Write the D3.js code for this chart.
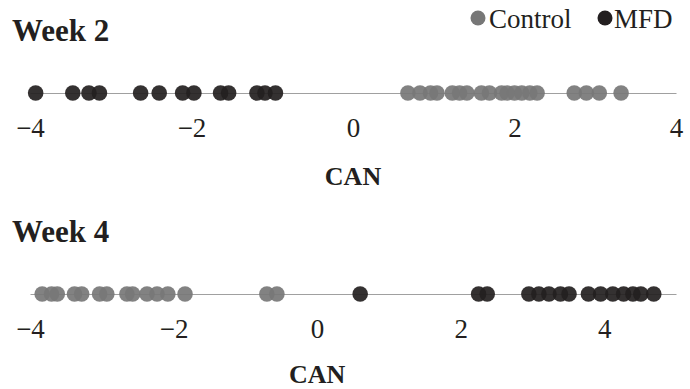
<!DOCTYPE html>
<html>
<head>
<meta charset="utf-8">
<script src="https://cdn.jsdelivr.net/npm/d3@7"></script>
<style>
  body { margin: 0; background: #fff; }
  svg text { font-family: "Liberation Serif", "Times New Roman", Times, serif; fill: #231f20; }
</style>
</head>
<body>
<svg id="chart" width="690" height="389"></svg>
<script>
// CAN scores
var week2Control = [0.68, 0.83, 0.96, 1.04, 1.23, 1.32, 1.41, 1.59, 1.69, 1.84, 1.91, 2.00, 2.09, 2.19, 2.28, 2.74, 2.89, 3.05, 3.32];
var week2MFD = [-3.93, -3.47, -3.27, -3.14, -2.63, -2.40, -2.11, -1.97, -1.64, -1.54, -1.19, -1.09, -0.96];
var week4Control = [-3.83, -3.70, -3.62, -3.38, -3.28, -3.03, -2.93, -2.65, -2.57, -2.37, -2.23, -2.08, -1.84, -0.70, -0.56];
var week4MFD = [0.60, 2.25, 2.37, 2.95, 3.09, 3.23, 3.39, 3.51, 3.78, 3.95, 4.12, 4.27, 4.40, 4.51, 4.69];

var week2Domain = [-4, 4];
var week4Domain = [-4, 5];
var tickValues = [-4, -2, 0, 2, 4];

var groups = ["Control", "MFD"];
var color = d3.scaleOrdinal().domain(groups).range(["#777777", "#231f20"]);

var svg = d3.select("#chart");

var panels = [
  { title: "Week 2", domain: week2Domain, control: week2Control, mfd: week2MFD, top: 0, can: 185 },
  { title: "Week 4", domain: week4Domain, control: week4Control, mfd: week4MFD, top: 201, can: 182 }
];

panels.forEach(function(p) {
  var g = svg.append("g").attr("transform", "translate(0," + p.top + ")");

  var x = d3.scaleLinear().domain(p.domain).range([30, 676]);

  g.append("text")
      .attr("x", 12)
      .attr("y", 41)
      .style("font-size", "31px")
      .style("font-weight", "bold")
      .text(p.title);

  var axis = g.append("g")
      .attr("transform", "translate(0,93)")
      .call(d3.axisBottom(x).tickValues(tickValues).tickSize(0).tickSizeOuter(0));
  axis.select(".domain").attr("stroke", "#a0a0a0").attr("stroke-width", 1.2);
  axis.selectAll(".tick text")
      .attr("y", 44)
      .attr("dy", 0)
      .style("font-size", "27px")
      .attr("fill", "#231f20");

  g.append("text")
      .attr("x", x(0))
      .attr("y", p.can)
      .attr("text-anchor", "middle")
      .style("font-size", "26px")
      .style("font-weight", "bold")
      .text("CAN");

  var series = [
    { key: "Control", values: p.control },
    { key: "MFD", values: p.mfd }
  ];

  series.forEach(function(s) {
    g.selectAll(null)
        .data(s.values)
      .enter().append("circle")
        .attr("cx", function(d) { return x(d); })
        .attr("cy", 93)
        .attr("r", 7.8)
        .attr("fill", color(s.key))
        .attr("fill-opacity", 0.92);
  });
});

// legend
var legendItems = [
  { key: "Control", dot: 478, text: 489 },
  { key: "MFD", dot: 605, text: 614 }
];
var legend = svg.append("g");
legend.selectAll("circle")
    .data(legendItems)
  .enter().append("circle")
    .attr("cx", function(d) { return d.dot; })
    .attr("cy", 18)
    .attr("r", 7.5)
    .attr("fill", function(d) { return color(d.key); });
legend.selectAll("text")
    .data(legendItems)
  .enter().append("text")
    .attr("x", function(d) { return d.text; })
    .attr("y", 28)
    .style("font-size", "27px")
    .text(function(d) { return d.key; });
</script>
</body>
</html>
